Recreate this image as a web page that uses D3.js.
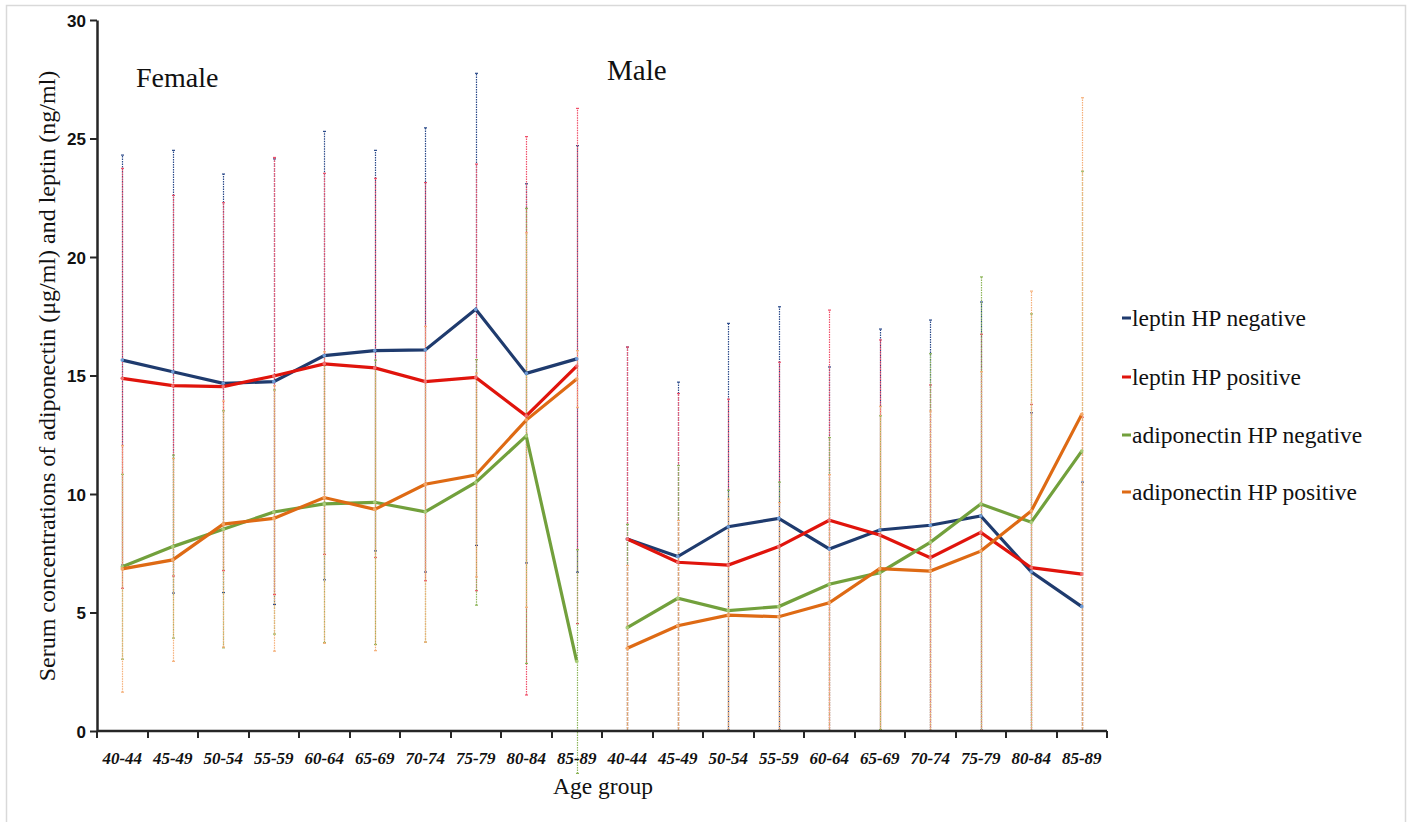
<!DOCTYPE html>
<html>
<head>
<meta charset="utf-8">
<script src="https://cdn.jsdelivr.net/npm/d3@7"></script>
<style>
html,body{margin:0;padding:0;background:#fff;}
svg{display:block;}
</style>
</head>
<body>
<svg id="chart" width="1409" height="822"></svg>
<script>
// ---------- data ----------
const ageGroups = ["40-44","45-49","50-54","55-59","60-64","65-69","70-74","75-79","80-84","85-89"];
const sexes = ["Female","Male"];
const yTicks = [0,5,10,15,20,25,30];
const seriesNames = ["leptin HP negative","leptin HP positive","adiponectin HP negative","adiponectin HP positive"];

// Female means
const leptinNegF = [15.65,15.16,14.67,14.74,15.84,16.05,16.08,17.79,15.09,15.70];
const leptinPosF = [14.88,14.57,14.53,14.98,15.49,15.32,14.74,14.92,13.30,15.40];
const adipoNegF  = [6.93,7.78,8.51,9.24,9.58,9.65,9.25,10.49,12.45,2.93];
const adipoPosF  = [6.84,7.22,8.73,8.97,9.85,9.35,10.41,10.80,13.12,14.85];
// Female SD (error bars)
const leptinNegFsd = [8.65,9.34,8.83,9.40,9.46,8.45,9.37,9.96,8.00,9.00];
const leptinPosFsd = [8.86,8.03,7.76,9.22,8.04,8.00,8.40,9.00,11.78,10.87];
const adipoNegFsd  = [3.90,3.86,5.00,5.15,5.85,6.00,5.50,5.18,9.60,4.72];
const adipoPosFsd  = [5.20,4.28,5.19,5.60,6.15,5.96,6.66,4.30,7.90,1.20];

// Male means
const leptinNegM = [8.10,7.36,8.62,8.97,7.68,8.48,8.68,9.07,6.72,5.25];
const leptinPosM = [8.10,7.12,7.00,7.78,8.89,8.27,7.31,8.38,6.89,6.62];
const adipoNegM  = [4.36,5.60,5.08,5.25,6.19,6.68,7.96,9.58,8.81,11.81];
const adipoPosM  = [3.49,4.44,4.89,4.82,5.41,6.85,6.75,7.59,9.28,13.36];
// Male SD (error bars)
const leptinNegMsd = [8.10,7.36,8.58,8.93,7.68,8.48,8.66,9.03,6.71,5.25];
const leptinPosMsd = [8.10,7.12,7.00,7.78,8.87,8.23,7.29,8.36,6.89,6.62];
const adipoNegMsd  = [4.36,5.60,5.08,5.25,6.19,6.62,7.96,9.58,8.79,11.81];
const adipoPosMsd  = [3.49,4.44,4.89,4.82,5.41,6.85,6.75,7.57,9.28,13.36];

// ---------- styles ----------
const lineColors = ["#1F3B6E","#E0140C","#72A03C","#DE6A14"];
const barColors  = ["#2B4A8A","#F0506A","#8DB55A","#F5B07A"];
const markColors = ["#6E9BD6","#F07070","#A9CC7A","#F3A86A"];

const series = [
  {name: seriesNames[0], F: leptinNegF, M: leptinNegM, Fsd: leptinNegFsd, Msd: leptinNegMsd},
  {name: seriesNames[1], F: leptinPosF, M: leptinPosM, Fsd: leptinPosFsd, Msd: leptinPosMsd},
  {name: seriesNames[2], F: adipoNegF,  M: adipoNegM,  Fsd: adipoNegFsd,  Msd: adipoNegMsd},
  {name: seriesNames[3], F: adipoPosF,  M: adipoPosM,  Fsd: adipoPosFsd,  Msd: adipoPosMsd}
];

const keys = [];
sexes.forEach(s => ageGroups.forEach(a => keys.push(s + "|" + a)));

const svg = d3.select("#chart");

// frame
svg.append("rect").attr("x",6.5).attr("y",5.5).attr("width",1399).attr("height",840)
  .attr("fill","none").attr("stroke","#d9d9d9").attr("stroke-width",1.5);

const x = d3.scaleBand().domain(keys).range([97,1107]).padding(0);
const y = d3.scaleLinear().domain([0,30]).range([731,20]);
const cx = k => x(k) + x.bandwidth()/2;

// error bars
const gErr = svg.append("g");
series.forEach((s,si) => {
  sexes.forEach(sex => {
    const vals = sex === "Female" ? s.F : s.M;
    const sds = sex === "Female" ? s.Fsd : s.Msd;
    ageGroups.forEach((a,i) => {
      const k = sex + "|" + a;
      const xx = Math.round(cx(k)) + 0.5;
      const lo = vals[i] - sds[i], hi = vals[i] + sds[i];
      gErr.append("line").attr("x1",xx).attr("x2",xx).attr("y1",y(lo)).attr("y2",y(hi))
        .attr("stroke",barColors[si]).attr("stroke-width",1.2).attr("stroke-dasharray","1.5,1");
      [lo,hi].forEach(v => {
        gErr.append("line").attr("x1",xx-1.5).attr("x2",xx+1.5).attr("y1",y(v)).attr("y2",y(v))
          .attr("stroke",barColors[si]).attr("stroke-width",1.2);
      });
    });
  });
});

// axes
const gx = svg.append("g").attr("transform","translate(0,731)");
gx.append("line").attr("x1",97).attr("x2",1107).attr("y1",0).attr("y2",0)
  .attr("stroke","#262626").attr("stroke-width",2.5);
const boundaries = keys.map(k => x(k)).concat([x.range()[1]]);
gx.selectAll("line.bt").data(boundaries).enter().append("line").attr("class","bt")
  .attr("x1",d=>Math.round(d)).attr("x2",d=>Math.round(d)).attr("y1",0).attr("y2",7)
  .attr("stroke","#262626").attr("stroke-width",2);
const xAxis = d3.axisBottom(x).tickSize(0).tickFormat(k => k.split("|")[1]);
const gxa = svg.append("g").attr("transform","translate(0,731)").call(xAxis);
gxa.select(".domain").remove();
gxa.selectAll("text").attr("dy",null).attr("y",33)
  .style("font-family","'Liberation Serif','Times New Roman',serif")
  .style("font-size","17px").style("font-weight","bold").style("font-style","italic")
  .attr("fill","#111");

const yAxis = d3.axisLeft(y).tickValues(yTicks).tickSize(7).tickSizeOuter(0);
const gy = svg.append("g").attr("transform","translate(97,0)").call(yAxis);
gy.select(".domain").attr("stroke","#262626").attr("stroke-width",2.5);
gy.selectAll(".tick line").attr("stroke","#262626").attr("stroke-width",2);
gy.selectAll("text").attr("x",-11).attr("dy","0.36em")
  .style("font-family","'Liberation Sans',Arial,sans-serif")
  .style("font-size","17px").style("font-weight","bold").attr("fill","#111");

// lines
const line = d3.line().x(d => cx(d.k)).y(d => y(d.v));
series.forEach((s,si) => {
  sexes.forEach(sex => {
    const vals = sex === "Female" ? s.F : s.M;
    const pts = ageGroups.map((a,i) => ({k: sex + "|" + a, v: vals[i]}));
    svg.append("path").datum(pts).attr("d",line).attr("fill","none")
      .attr("stroke",lineColors[si]).attr("stroke-width",3.2).attr("stroke-linejoin","miter");
    svg.append("g").selectAll("circle").data(pts).enter().append("circle")
      .attr("cx",d=>cx(d.k)).attr("cy",d=>y(d.v)).attr("r",1.8).attr("fill",markColors[si]);
  });
});

// text
const serif = "'Liberation Serif','Times New Roman',serif";
svg.append("text").attr("x",136).attr("y",87).text("Female")
  .style("font-family",serif).style("font-size","28px").attr("fill","#111");
svg.append("text").attr("x",607).attr("y",80).text("Male")
  .style("font-family",serif).style("font-size","29px").attr("fill","#111");
svg.append("text").attr("x",603).attr("y",794).attr("text-anchor","middle").text("Age group")
  .style("font-family",serif).style("font-size","23.5px").attr("fill","#111");
svg.append("text").attr("transform","translate(55,376) rotate(-90)").attr("text-anchor","middle")
  .text("Serum concentrations of adiponectin (μg/ml) and leptin (ng/ml)")
  .style("font-family",serif).style("font-size","24px").attr("fill","#111");

// legend
const legY = [318,377,435,492];
const gl = svg.append("g");
series.forEach((s,si) => {
  gl.append("rect").attr("x",1122).attr("y",legY[si]-1.5).attr("width",9).attr("height",3)
    .attr("fill",lineColors[si]);
  gl.append("text").attr("x",1132).attr("y",legY[si]).attr("dy","0.35em").text(s.name)
    .style("font-family",serif).style("font-size","23.5px").attr("fill","#111");
});
</script>
</body>
</html>
